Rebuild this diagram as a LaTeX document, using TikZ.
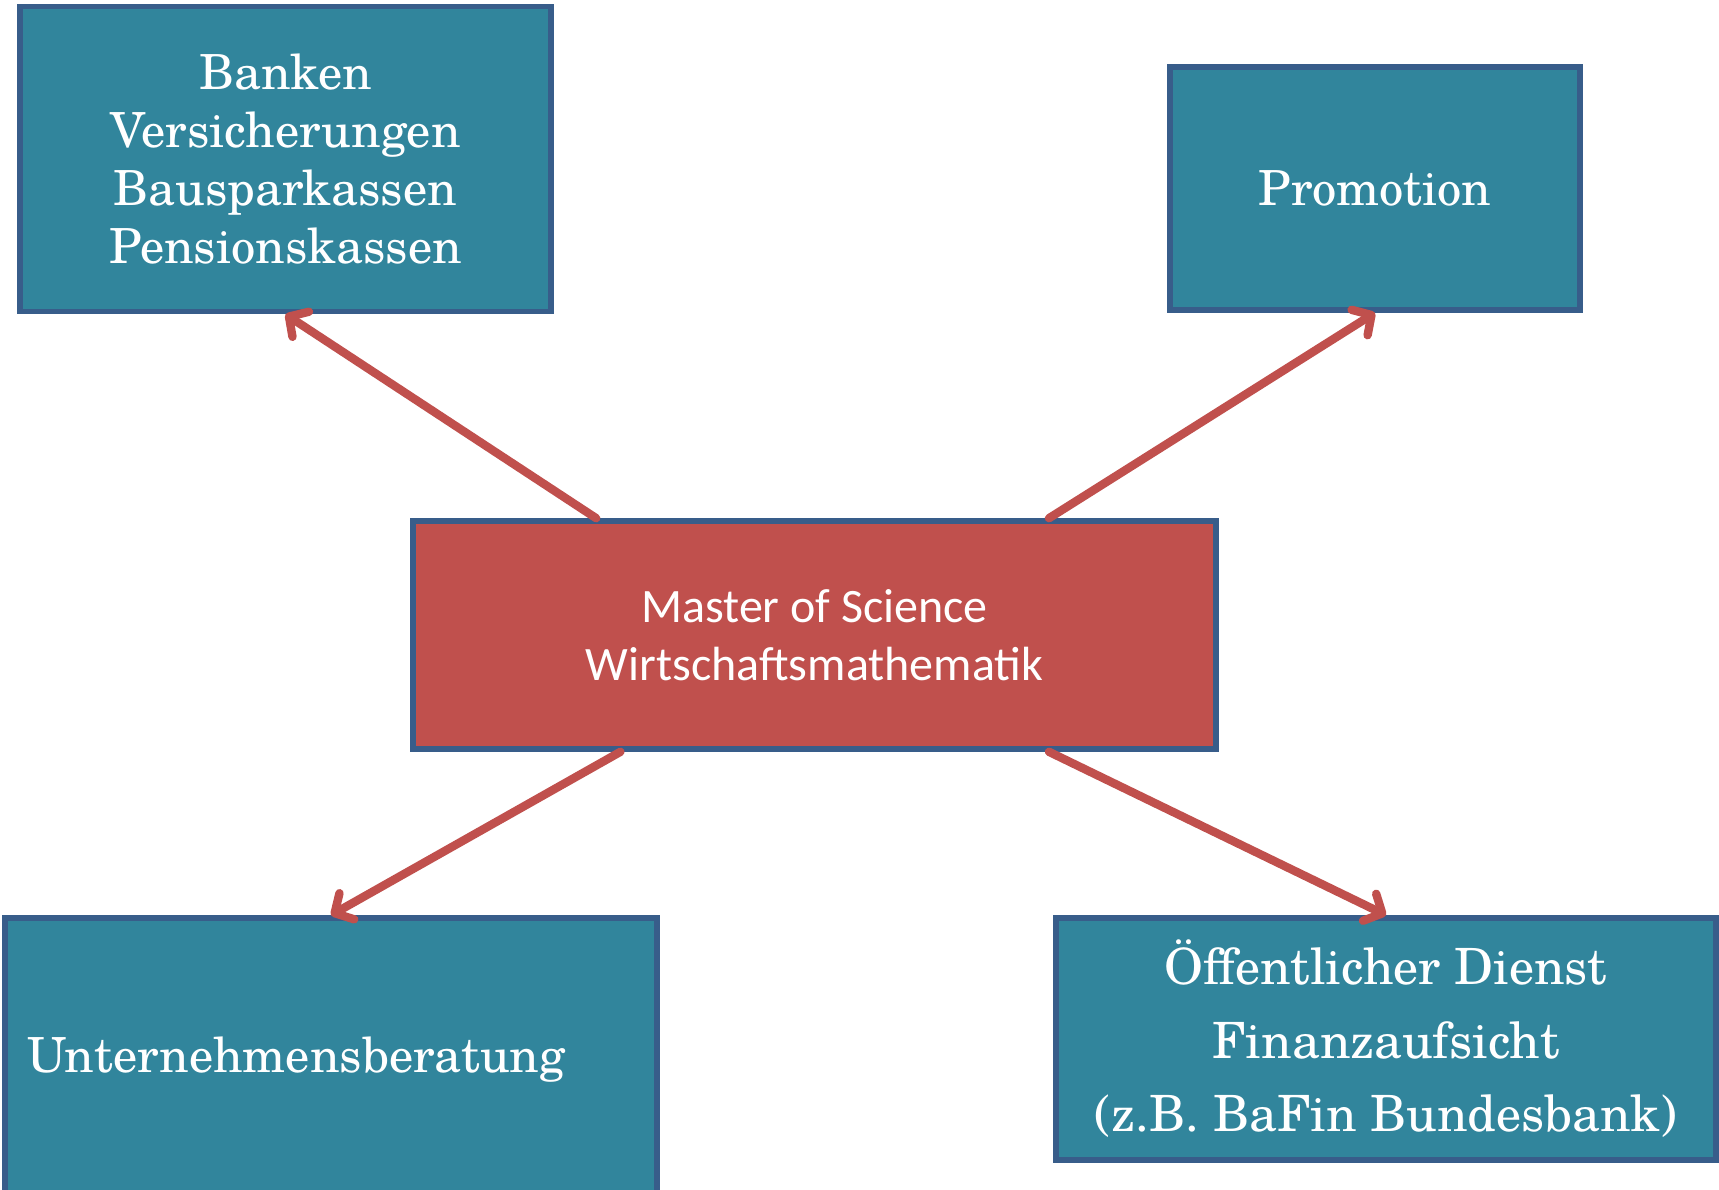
\documentclass[tikz,border=0pt]{standalone}
\usepackage{fontspec}
\setmainfont{TeX Gyre Schola}
\newfontfamily\boxsans{Carlito}
\usetikzlibrary{arrows.meta,calc}
\definecolor{tealfill}{HTML}{31859C}
\definecolor{boxline}{HTML}{385D8A}
\definecolor{redfill}{HTML}{C0504D}
\tikzset{
  jobbox/.style={draw=boxline, line width=2.8pt, fill=tealfill, text=white, inner sep=0pt,
    font=\fontsize{24.2}{29}\selectfont, align=center},
  masterbox/.style={draw=boxline, line width=2.8pt, fill=redfill, text=white, inner sep=0pt,
    font=\boxsans\fontsize{24}{29}\selectfont, align=center},
  careerarrow/.style={draw=redfill, line width=4.2pt, line cap=round,
    -{Straight Barb[length=7pt,width=15pt,round]}}
}
\begin{document}
\begin{tikzpicture}[x=0.5pt, y=-0.5pt]
  \useasboundingbox (0,0) rectangle (1719,1189);
  \clip (0,0) rectangle (1719,1189);
  % boxes
  \node[jobbox, minimum width=265.5pt, minimum height=152.5pt] (banken) at (285.5,159)
    {Banken\\Versicherungen\\Bausparkassen\\Pensionskassen};
  \node[jobbox, minimum width=205pt, minimum height=121.5pt] (promo) at (1375,188.5) {Promotion};
  \node[masterbox, minimum width=401.5pt, minimum height=114pt] (master) at (814.5,635)
    {Master of Science\\Wirtschaftsmathematik};
  \node[jobbox, minimum width=326pt, minimum height=142pt, align=left, text width=304pt,
    inner xsep=11pt] (beratung) at (331,1060) {Unternehmensberatung};
  \node[jobbox, minimum width=330pt, minimum height=121pt,
    font=\fontsize{25}{36.7}\selectfont] (dienst) at (1386,1039)
    {Öffentlicher Dienst\\Finanzaufsicht\\(z.B. BaFin Bundesbank)};
  % arrows
  \draw[careerarrow] ($(master.north west)!0.23!(master.north east)$) -- (banken.south);
  \draw[careerarrow] ($(master.north west)!0.79!(master.north east)$) -- (promo.south);
  \draw[careerarrow] ($(master.south west)!0.26!(master.south east)$) -- (beratung.north);
  \draw[careerarrow] ($(master.south west)!0.79!(master.south east)$) -- (dienst.north);
\end{tikzpicture}
\end{document}
